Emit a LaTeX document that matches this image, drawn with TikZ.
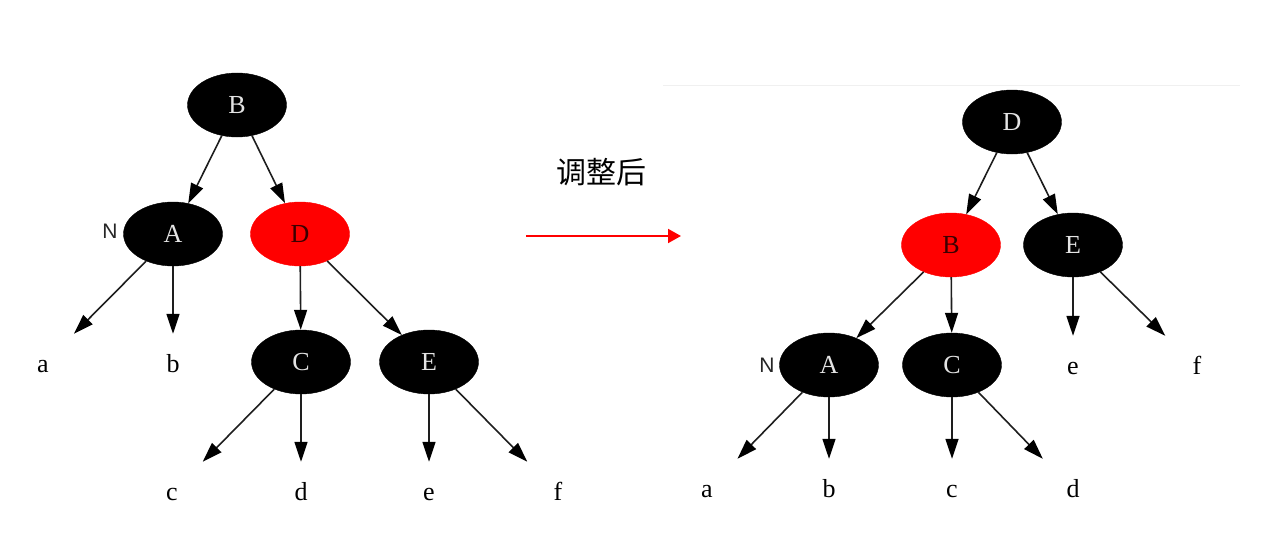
\documentclass[tikz,border=0pt]{standalone}
\usepackage{fontspec}
\setmainfont{Liberation Serif}
\newfontfamily\sansN{Liberation Sans}
\newfontfamily\cjk{Noto Sans CJK SC}
\usetikzlibrary{arrows.meta,shapes.geometric}
\definecolor{edgec}{HTML}{1E1E1E}
\definecolor{nodered}{HTML}{FF0000}
\definecolor{lighttxt}{HTML}{E4E4E4}
\definecolor{darktxt}{HTML}{3A0000}
\begin{document}
\begin{tikzpicture}[x=1pt,y=-1pt,
  bnode/.style={ellipse, fill=black, draw=black, minimum width=99pt, minimum height=64pt, inner sep=0pt, text=lighttxt, font=\fontsize{26}{26}\selectfont},
  rnode/.style={bnode, fill=nodered, draw=nodered, text=darktxt},
  leaf/.style={rectangle, minimum width=96pt, minimum height=62pt, inner sep=0pt, text height=14pt, text depth=0pt, font=\fontsize{26}{26}\selectfont},
  conn/.style={draw=edgec, line width=1.6pt, -{Triangle[length=20pt,width=13pt,fill=black,color=black]}},
  nlabel/.style={font=\sansN\fontsize{21}{21}\selectfont, text=black!85, inner sep=0pt}
]
\useasboundingbox[fill=white] (0,0) rectangle (1274,551);

% faint top line
\coordinate (fl1) at (663,85);
\coordinate (fl2) at (1240,85);
\draw[black!6, line width=1pt] (fl1) -- (fl2);

% ---------- left tree ----------
\node[bnode] (LB) at (237,105) {B};
\node[bnode] (LA) at (173,234) {A};
\node[rnode] (LD) at (300,234) {D};
\node[bnode] (LC) at (301,362) {C};
\node[bnode] (LE) at (429,362) {E};
\node[leaf] (La) at (43,365) {a};
\node[leaf] (Lb) at (173,365) {b};
\node[leaf] (Lc) at (172,493) {c};
\node[leaf] (Ld) at (301,493) {d};
\node[leaf] (Le) at (429,493) {e};
\node[leaf] (Lf) at (558,493) {f};
\node[nlabel] (LN) at (110,231) {N};

\draw[conn] (LB) -- (LA);
\draw[conn] (LB) -- (LD);
\draw[conn] (LA) -- (La);
\draw[conn] (LA) -- (Lb);
\draw[conn] (LD) -- (LC);
\draw[conn] (LD) -- (LE);
\draw[conn] (LC) -- (Lc);
\draw[conn] (LC) -- (Ld);
\draw[conn] (LE) -- (Le);
\draw[conn] (LE) -- (Lf);

% ---------- middle ----------
\node (title) at (601,172) {\cjk\fontsize{30}{30}\selectfont 调整后};
\coordinate (arrS) at (526,236);
\coordinate (arrE) at (681,236);
\draw[red, line width=2pt, -{Triangle[length=13pt,width=14pt]}] (arrS) -- (arrE);

% ---------- right tree ----------
\node[bnode] (RD) at (1012,122) {D};
\node[rnode] (RB) at (951,245) {B};
\node[bnode] (RE) at (1073,245) {E};
\node[bnode] (RA) at (829,365) {A};
\node[bnode] (RC) at (952,365) {C};
\node[leaf] (Re) at (1073,367) {e};
\node[leaf] (Rf) at (1197,367) {f};
\node[leaf] (Ra) at (707,490) {a};
\node[leaf] (Rb) at (829,490) {b};
\node[leaf] (Rc) at (952,490) {c};
\node[leaf] (Rd) at (1073,490) {d};
\node[nlabel] (RN) at (767,365) {N};

\draw[conn] (RD) -- (RB);
\draw[conn] (RD) -- (RE);
\draw[conn] (RB) -- (RA);
\draw[conn] (RB) -- (RC);
\draw[conn] (RE) -- (Re);
\draw[conn] (RE) -- (Rf);
\draw[conn] (RA) -- (Ra);
\draw[conn] (RA) -- (Rb);
\draw[conn] (RC) -- (Rc);
\draw[conn] (RC) -- (Rd);
\end{tikzpicture}
\end{document}
